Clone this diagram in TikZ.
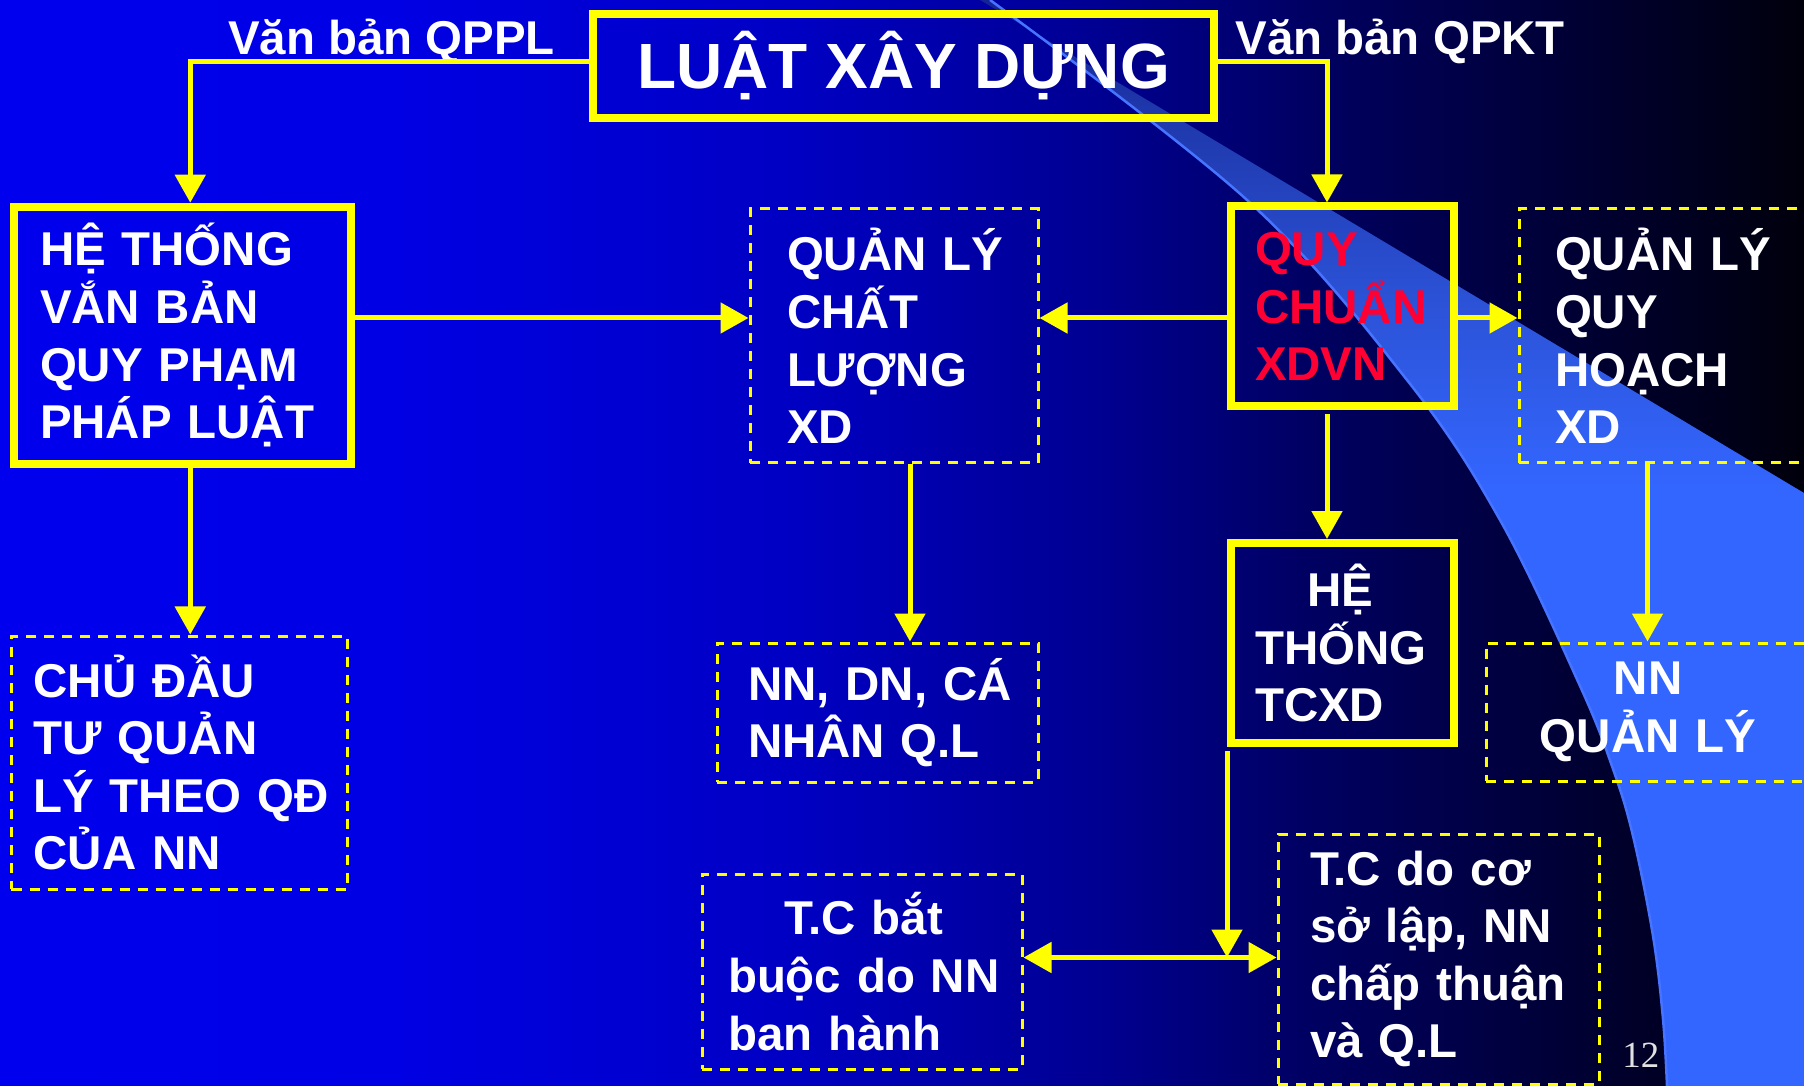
\documentclass[tikz,border=0pt]{standalone}
\usepackage{fontspec}
\setmainfont{Liberation Sans}
\newfontfamily\numfont{Liberation Serif}
\usepackage{calc}
\usepackage{tikz}
\usetikzlibrary{calc,positioning,arrows.meta}
\definecolor{bgA}{RGB}{0,0,238}
\definecolor{bgB}{RGB}{0,0,228}
\definecolor{bgC}{RGB}{0,0,195}
\definecolor{bgD}{RGB}{0,0,145}
\definecolor{bgE}{RGB}{0,0,100}
\definecolor{bgF}{RGB}{0,0,65}
\definecolor{bgG}{RGB}{0,0,12}
\definecolor{bandapex}{RGB}{20,35,150}
\definecolor{bandtop}{RGB}{30,55,170}
\definecolor{bandmid}{RGB}{45,85,220}
\definecolor{bandlight}{RGB}{51,102,255}
\definecolor{bandedge}{RGB}{70,115,255}
\definecolor{linkyellow}{RGB}{255,255,0}
\definecolor{qcred}{RGB}{255,0,51}
\definecolor{pagegray}{RGB}{225,225,225}
\pgfdeclarehorizontalshading{slidebg}{100bp}{color(0bp)=(bgA); color(25bp)=(bgA); color(36bp)=(bgB); color(47bp)=(bgC); color(55.5bp)=(bgD); color(61bp)=(bgE); color(66.5bp)=(bgF); color(75bp)=(bgG); color(100bp)=(bgG)}
\pgfdeclareverticalshading{bandfade}{100bp}{color(0bp)=(bandlight); color(52.5bp)=(bandlight); color(60bp)=(bandmid); color(70bp)=(bandtop); color(75bp)=(bandapex); color(100bp)=(bandapex)}
\newcommand{\boxfont}{\bfseries\fontsize{13.5}{16.4}\selectfont}
\newcommand{\titlefont}{\bfseries\fontsize{18.2}{22}\selectfont}
\newcommand{\centeredover}[2]{\makebox[\widthof{#2}]{#1}}

\begin{document}
\begin{tikzpicture}[
  >={Triangle[length=0.28cm, width=0.3cm]},
  solidbox/.style={draw=linkyellow, line width=0.08cm, text=white,
    font=\boxfont, align=left, inner ysep=0pt},
  dashbox/.style={draw=linkyellow, line width=0.03cm,
    dash pattern=on 0.1cm off 0.08cm, text=white, font=\boxfont,
    align=left, inner ysep=0pt},
  link/.style={->, line width=0.05cm, linkyellow},
  twoway/.style={<->, line width=0.05cm, linkyellow},
  lbl/.style={text=white, font=\boxfont},
]
  \useasboundingbox (0,0) rectangle (18.04,-10.86);
  \shade[shading=slidebg] (0,0) rectangle (18.04,-10.86);
  \shade[shading=bandfade] (9.80,0) -- (18.04,-4.93) -- (18.04,-10.86)
    -- plot[smooth, tension=0.6] coordinates {(16.67,-10.86) (16.63,-10.19)
    (16.53,-9.36) (16.33,-8.36) (16.13,-7.69) (15.80,-6.86) (15.00,-5.20)
    (14.07,-3.80) (12.47,-2.00) (9.90,0)} -- cycle;
  \draw[bandedge, line width=0.025cm] plot[smooth, tension=0.6] coordinates
    {(16.67,-10.86) (16.63,-10.19) (16.53,-9.36) (16.33,-8.36) (16.13,-7.69)
    (15.80,-6.86) (15.00,-5.20) (14.07,-3.80) (12.47,-2.00) (9.90,0)};

  \node[solidbox, font=\titlefont, align=center, minimum width=6.21cm,
    minimum height=1.04cm] (title) at (9.035,-0.66) {LUẬT XÂY DỰNG};
  \node[lbl, anchor=base] (qppl) at (3.915,-0.55) {Văn bản QPPL};
  \node[lbl, anchor=base west] (qpkt) at (12.23,-0.55) {Văn bản QPKT};

  \node[solidbox, text width=2.845cm, inner xsep=0.26cm,
    minimum height=2.573cm] (htvb) at (1.8225,-3.3535)
    {HỆ~THỐNG\\VẮN~BẢN\\QUY~PHẠM\\PHÁP~LUẬT};
  \node[dashbox, text width=2.14cm, inner xsep=0.37cm,
    minimum height=2.54cm] (qlcl) at (8.94,-3.36)
    {QUẢN~LÝ\\CHẤT\\LƯỢNG\\XD};
  \node[solidbox, text=qcred, text width=1.75cm, inner xsep=0.24cm,
    minimum height=2cm] (qcvn) at (13.425,-3.065) {QUY\\CHUẨN\\XDVN};
  \node[dashbox, text width=2.19cm, inner xsep=0.36cm,
    minimum height=2.54cm] (qlqh) at (16.645,-3.36)
    {QUẢN~LÝ\\QUY\\HOẠCH\\XD};

  \node[dashbox, text width=2.92cm, inner xsep=0.22cm, minimum height=2.53cm,
    below=1.665cm of htvb.south west, anchor=north west] (cdt)
    {CHỦ~ĐẦU\\TƯ~QUẢN\\LÝ~THEO~QĐ\\CỦA~NN};
  \node[dashbox, text width=2.59cm, inner xsep=0.31cm, minimum height=1.39cm,
    below=1.77cm of qlcl.south east, anchor=north east] (nndn)
    {NN,~DN,~CÁ\\NHÂN~Q.L};
  \node[solidbox, text width=1.75cm, inner xsep=0.24cm, minimum height=2cm,
    below=1.285cm of qcvn] (httc) {\centeredover{HỆ}{THỐNG}\\THỐNG\\TCXD};
  \node[dashbox, align=center, text width=2.24cm, inner xsep=0.5cm,
    minimum height=1.38cm, below=1.77cm of qlqh.south east,
    anchor=north east] (nnql) {NN\\QUẢN~LÝ};

  \node[dashbox, text width=2.68cm, inner xsep=0.26cm,
    minimum height=1.95cm] (tcbb) at (8.62,-9.715)
    {\centeredover{T.C bắt}{buộc do NN}\\buộc~do~NN\\ban~hành};
  \node[dashbox, text width=2.57cm, inner xsep=0.32cm,
    minimum height=2.5cm] (tccs) at (14.385,-9.59)
    {T.C~do~cơ\\sở~lập,~NN\\chấp~thuận\\và~Q.L};
  \node[text=pagegray, font=\numfont\fontsize{10.5}{12}\selectfont,
    anchor=base west] (pageno) at (16.1,-10.67) {12};

  \coordinate (midrow) at (0,-3.18);
  \coordinate (botrow) at (0,-9.575);

  \draw[link] ([yshift=0.045cm]title.west) -| ([xshift=0.08cm]htvb.north);
  \draw[link] ([yshift=0.045cm]title.east) -| ([xshift=-0.155cm]qcvn.north);
  \draw[link] (htvb.east |- midrow) -- (qlcl.west |- midrow);
  \draw[link] (qcvn.west |- midrow) -- (qlcl.east |- midrow);
  \draw[link] (qcvn.east |- midrow) -- (qlqh.west |- midrow);
  \draw[link] ([xshift=0.08cm]htvb.south) -- ([xshift=0.08cm]htvb.south |- cdt.north);
  \draw[link] ([xshift=0.16cm]qlcl.south) -- ([xshift=0.16cm]qlcl.south |- nndn.north);
  \draw[link] ([xshift=-0.17cm]qlqh.south) -- ([xshift=-0.17cm]qlqh.south |- nnql.north);
  \draw[link] ([xshift=-0.155cm, yshift=-0.04cm]qcvn.south) -- ([xshift=-0.155cm]httc.north);
  \draw[link] ([yshift=-0.04cm]httc.south west) -- (httc.south west |- botrow);
  \draw[twoway] (tcbb.east |- botrow) -- (tccs.west |- botrow);
\end{tikzpicture}
\end{document}
